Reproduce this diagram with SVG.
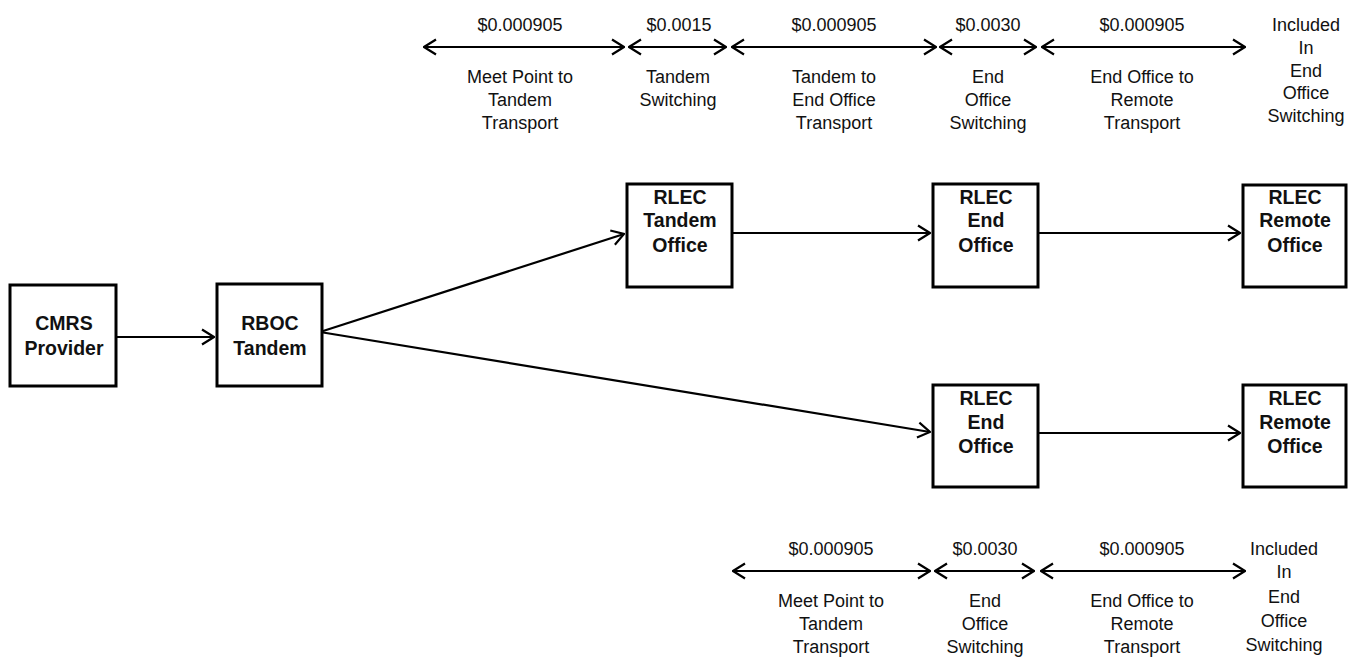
<svg xmlns="http://www.w3.org/2000/svg" width="1348" height="660" viewBox="0 0 1348 660">
<defs>
<style>
.box{fill:#fff;stroke:#000;stroke-width:3}
.bl{font-family:"Liberation Sans",Arial,sans-serif;font-size:19.5px;font-weight:bold;text-anchor:middle;fill:#111}
.t{font-family:"Liberation Sans",Arial,sans-serif;font-size:18px;text-anchor:middle;fill:#111}
.c{stroke:#000;stroke-width:2.2;fill:none}
</style>
<marker id="ae" viewBox="0 0 14 18" refX="13" refY="9" markerWidth="14" markerHeight="18" markerUnits="userSpaceOnUse" orient="auto">
<path d="M1,1.5 L13,9 L1,16.5" fill="none" stroke="#000" stroke-width="2.2"/>
</marker>
<marker id="as" viewBox="0 0 14 18" refX="1" refY="9" markerWidth="14" markerHeight="18" markerUnits="userSpaceOnUse" orient="auto">
<path d="M13,1.5 L1,9 L13,16.5" fill="none" stroke="#000" stroke-width="2.2"/>
</marker>
</defs>
<rect width="1348" height="660" fill="#fff"/>

<g id="connectors">
<line class="c" x1="117" y1="337" x2="214" y2="337" marker-end="url(#ae)"/>
<line class="c" x1="320" y1="332" x2="624" y2="234" marker-end="url(#ae)"/>
<line class="c" x1="320" y1="332" x2="930" y2="432" marker-end="url(#ae)"/>
<line class="c" x1="732" y1="233" x2="930" y2="233" marker-end="url(#ae)"/>
<line class="c" x1="1038" y1="233" x2="1240" y2="233" marker-end="url(#ae)"/>
<line class="c" x1="1038" y1="433" x2="1240" y2="433" marker-end="url(#ae)"/>
</g>

<g id="top-scale">
<line class="c" x1="424" y1="47" x2="624" y2="47" marker-start="url(#as)" marker-end="url(#ae)"/>
<line class="c" x1="629" y1="47" x2="726" y2="47" marker-start="url(#as)" marker-end="url(#ae)"/>
<line class="c" x1="732" y1="47" x2="936" y2="47" marker-start="url(#as)" marker-end="url(#ae)"/>
<line class="c" x1="940" y1="47" x2="1036" y2="47" marker-start="url(#as)" marker-end="url(#ae)"/>
<line class="c" x1="1042" y1="47" x2="1245" y2="47" marker-start="url(#as)" marker-end="url(#ae)"/>
<text class="t" x="520" y="31">$0.000905</text>
<text class="t" x="679" y="31">$0.0015</text>
<text class="t" x="834" y="31">$0.000905</text>
<text class="t" x="988" y="31">$0.0030</text>
<text class="t" x="1142" y="31">$0.000905</text>
<text class="t" x="520" y="83">Meet Point to</text>
<text class="t" x="520" y="106">Tandem</text>
<text class="t" x="520" y="129">Transport</text>
<text class="t" x="678" y="83">Tandem</text>
<text class="t" x="678" y="106">Switching</text>
<text class="t" x="834" y="83">Tandem to</text>
<text class="t" x="834" y="106">End Office</text>
<text class="t" x="834" y="129">Transport</text>
<text class="t" x="988" y="83">End</text>
<text class="t" x="988" y="106">Office</text>
<text class="t" x="988" y="129">Switching</text>
<text class="t" x="1142" y="83">End Office to</text>
<text class="t" x="1142" y="106">Remote</text>
<text class="t" x="1142" y="129">Transport</text>
<text class="t" x="1306" y="31">Included</text>
<text class="t" x="1306" y="54">In</text>
<text class="t" x="1306" y="77">End</text>
<text class="t" x="1306" y="99">Office</text>
<text class="t" x="1306" y="122">Switching</text>
</g>

<g id="bottom-scale">
<line class="c" x1="733" y1="571" x2="930" y2="571" marker-start="url(#as)" marker-end="url(#ae)"/>
<line class="c" x1="935" y1="571" x2="1034" y2="571" marker-start="url(#as)" marker-end="url(#ae)"/>
<line class="c" x1="1041" y1="571" x2="1245" y2="571" marker-start="url(#as)" marker-end="url(#ae)"/>
<text class="t" x="831" y="555">$0.000905</text>
<text class="t" x="985" y="555">$0.0030</text>
<text class="t" x="1142" y="555">$0.000905</text>
<text class="t" x="831" y="607">Meet Point to</text>
<text class="t" x="831" y="630">Tandem</text>
<text class="t" x="831" y="653">Transport</text>
<text class="t" x="985" y="607">End</text>
<text class="t" x="985" y="630">Office</text>
<text class="t" x="985" y="653">Switching</text>
<text class="t" x="1142" y="607">End Office to</text>
<text class="t" x="1142" y="630">Remote</text>
<text class="t" x="1142" y="653">Transport</text>
<text class="t" x="1284" y="555">Included</text>
<text class="t" x="1284" y="578">In</text>
<text class="t" x="1284" y="603">End</text>
<text class="t" x="1284" y="627">Office</text>
<text class="t" x="1284" y="651">Switching</text>
</g>

<g id="cmrs">
<rect class="box" x="10" y="285" width="106" height="101"/>
<text class="bl" x="64" y="330">CMRS</text>
<text class="bl" x="64" y="355">Provider</text>
</g>
<g id="rboc">
<rect class="box" x="217" y="284" width="105" height="102"/>
<text class="bl" x="270" y="330">RBOC</text>
<text class="bl" x="270" y="355">Tandem</text>
</g>
<g id="rlec-tandem">
<rect class="box" x="627" y="184" width="105" height="103"/>
<text class="bl" x="680" y="204">RLEC</text>
<text class="bl" x="680" y="227">Tandem</text>
<text class="bl" x="680" y="252">Office</text>
</g>
<g id="rlec-end-1">
<rect class="box" x="933" y="184" width="105" height="103"/>
<text class="bl" x="986" y="204">RLEC</text>
<text class="bl" x="986" y="227">End</text>
<text class="bl" x="986" y="252">Office</text>
</g>
<g id="rlec-remote-1">
<rect class="box" x="1243" y="185" width="103" height="102"/>
<text class="bl" x="1295" y="204">RLEC</text>
<text class="bl" x="1295" y="227">Remote</text>
<text class="bl" x="1295" y="252">Office</text>
</g>
<g id="rlec-end-2">
<rect class="box" x="933" y="385" width="105" height="102"/>
<text class="bl" x="986" y="405">RLEC</text>
<text class="bl" x="986" y="429">End</text>
<text class="bl" x="986" y="453">Office</text>
</g>
<g id="rlec-remote-2">
<rect class="box" x="1243" y="385" width="103" height="102"/>
<text class="bl" x="1295" y="405">RLEC</text>
<text class="bl" x="1295" y="429">Remote</text>
<text class="bl" x="1295" y="453">Office</text>
</g>
</svg>
